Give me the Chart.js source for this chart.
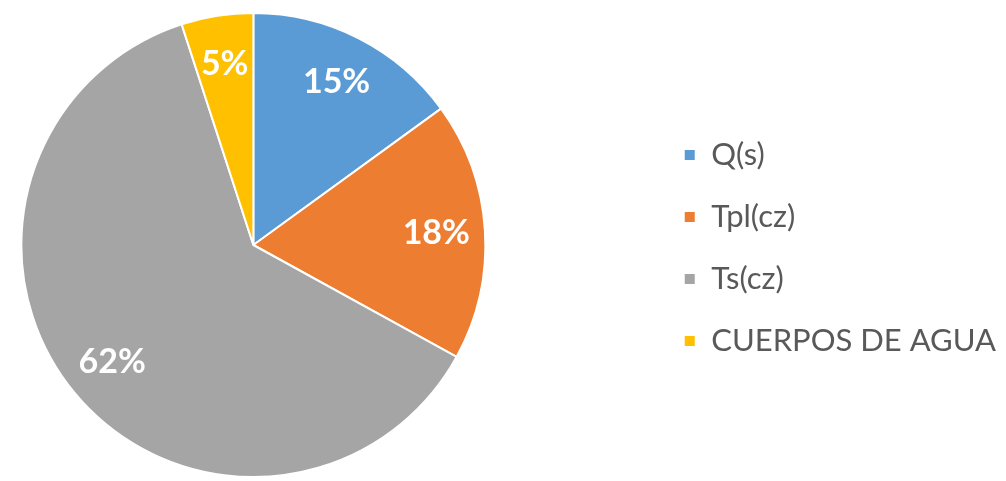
<!DOCTYPE html>
<html>
<head>
<meta charset="utf-8">
<script src="https://cdn.jsdelivr.net/npm/chart.js@4/dist/chart.umd.min.js"></script>
<style>
  html, body { margin: 0; padding: 0; background: #fff; overflow: hidden; }
  #wrap { width: 1152px; height: 481px; position: absolute; left: -146px; top: 0; }
</style>
</head>
<body>
<div id="wrap"><canvas id="pieChart"></canvas></div>
<script>
// datos del gráfico
const categorias = ['Q(s)', 'Tpl(cz)', 'Ts(cz)', 'CUERPOS DE AGUA'];
const porcentajes = [15, 18, 62, 5];
const colores = ['#5B9BD5', '#ED7D31', '#A5A5A5', '#FFC000'];

// etiquetas de porcentaje dentro de cada sector
const etiquetasPlugin = {
  id: 'etiquetas',
  afterDatasetsDraw(chart) {
    const ctx = chart.ctx;
    const meta = chart.getDatasetMeta(0);
    ctx.save();
    ctx.fillStyle = '#ffffff';
    ctx.font = 'bold 34px Lato';
    ctx.textAlign = 'center';
    ctx.textBaseline = 'middle';
    meta.data.forEach((arc, i) => {
      const p = arc.getProps(['x', 'y', 'startAngle', 'endAngle', 'outerRadius'], true);
      const ang = (p.startAngle + p.endAngle) / 2;
      const r = p.outerRadius * 0.79;
      ctx.fillText(porcentajes[i] + '%', p.x + Math.cos(ang) * r, p.y + Math.sin(ang) * r);
    });
    ctx.restore();
  }
};

new Chart(document.getElementById('pieChart'), {
  type: 'pie',
  data: {
    labels: categorias,
    datasets: [{
      data: porcentajes,
      backgroundColor: colores,
      borderColor: '#ffffff',
      borderWidth: 2
    }]
  },
  options: {
    responsive: true,
    maintainAspectRatio: false,
    animation: false,
    layout: {
      padding: { top: 12, bottom: 3, left: 0, right: 0 }
    },
    plugins: {
      legend: {
        position: 'right',
        align: 'center',
        // título vacío solo para bajar un poco la leyenda
        title: { display: true, text: ' ', font: { size: 1, lineHeight: 1 }, padding: { top: 3, bottom: 2 } },
        labels: {
          boxWidth: 12,
          boxHeight: 12,
          padding: 31,
          color: '#595959',
          font: { family: 'Lato', size: 31 }
        }
      },
      tooltip: { enabled: false }
    }
  },
  plugins: [etiquetasPlugin]
});
</script>
</body>
</html>
